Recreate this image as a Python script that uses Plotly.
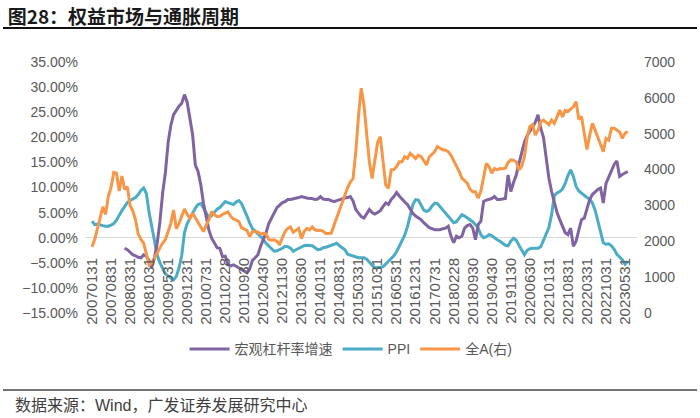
import calendar
import plotly.graph_objects as go

# ---------------- data ----------------
START_YEAR, N_MONTHS = 2007, 198
categories = []
for i in range(N_MONTHS):
    y, m = START_YEAR + i // 12, i % 12 + 1
    categories.append(f"{y}{m:02d}{calendar.monthrange(y, m)[1]:02d}")

tick_labels = ["20070131", "20070831", "20080331", "20081031", "20090531", "20091231",
               "20100731", "20110228", "20110930", "20120430", "20121130", "20130630",
               "20140131", "20140831", "20150331", "20151031", "20160531", "20161231",
               "20170731", "20180228", "20180930", "20190430", "20191130", "20200630",
               "20210131", "20210831", "20220331", "20221031", "20230531"]

leverage_growth = (
    [None] * 12 +
    [-2.1, -2.4, -2.9, -3.4, -3.6, -3.9, -4.0, -3.4, -3.7, -4.6, -5.9, -4.0] +
    [-1.0, 3.3, 9.0, 13.0, 19.0, 22.4, 24.5, 25.5, 26.2, 26.8, 28.5, 27.0] +
    [23.8, 20.5, 14.5, 13.2, 10.6, 6.8, 4.2, 1.5, -0.1, -1.2, -2.0, -2.1] +
    [-3.8, -3.7, -5.4, -5.6, -5.4, -5.7, -6.0, -6.3, -6.7, -7.0, -6.2, -4.5] +
    [-4.0, -3.4, -1.7, -0.5, 1.0, 2.8, 3.9, 5.2, 6.0, 6.5, 7.0, 7.2] +
    [7.6, 7.6, 7.7, 7.9, 8.0, 8.2, 8.0, 7.9, 7.8, 7.8, 7.6, 7.7] +
    [8.2, 7.7, 7.6, 7.6, 7.4, 7.2, 7.4, 7.6, 7.8, 7.9, 8.0, 8.2] +
    [7.3, 5.6, 4.9, 4.2, 3.9, 4.9, 5.6, 5.0, 4.7, 5.0, 5.4, 6.2] +
    [6.9, 6.6, 7.6, 8.2, 9.0, 8.3, 7.6, 7.1, 6.6, 5.6, 4.8, 4.3] +
    [3.9, 3.6, 3.0, 2.4, 2.0, 1.8, 1.6, 1.6, 1.6, 1.8, 1.9, 2.3] +
    [0.3, -1.0, 0.3, 0.0, 0.3, 1.9, 2.4, 2.6, 1.9, -0.4, 2.6, 3.3] +
    [7.2, 7.5, 7.7, 7.8, 8.2, 7.6, 7.6, 7.7, 7.8, 12.5, 9.2, 11.0] +
    [12.5, 14.8, 17.2, 19.0, 20.3, 21.3, 22.3, 23.0, 24.5, 21.8, 20.0, 15.5] +
    [11.9, 9.2, 6.9, 5.0, 3.6, 2.2, 1.0, 0.6, 1.9, -1.7, -0.7, 1.5] +
    [3.6, 3.9, 5.8, 7.6, 8.6, 9.2, 9.6, 9.9, 6.9, 10.8, 12.2, 13.2] +
    [14.6, 15.3, 12.2, 12.6, 12.9, 13.2]
)

ppi = (
    [3.3, 2.6, 2.7, 2.5, 2.4, 2.3, 2.3, 2.5, 2.8, 3.5, 4.6, 5.4] +
    [6.2, 7.0, 7.4, 7.7, 8.0, 8.6, 9.4, 9.9, 8.8, 5.0, 1.9, -1.2] +
    [-3.5, -5.0, -6.0, -7.2, -7.6, -8.0, -8.4, -7.7, -6.0, -3.5, 1.0, 2.8] +
    [3.9, 5.0, 5.9, 6.6, 6.8, 5.9, 4.8, 4.0, 4.4, 5.1, 5.7, 6.0] +
    [6.6, 7.2, 7.0, 6.8, 6.6, 7.1, 7.4, 6.8, 5.7, 4.3, 2.9, 1.8] +
    [1.3, 0.8, 0.3, -0.3, -1.1, -1.6, -2.2, -2.7, -2.6, -2.4, -2.1, -1.7] +
    [-1.8, -2.1, -2.7, -2.4, -2.1, -1.8, -1.6, -1.5, -1.5, -1.6, -2.0, -2.4] +
    [-2.3, -2.0, -1.9, -1.7, -1.5, -1.2, -1.1, -1.6, -2.0, -2.4, -3.3, -3.5] +
    [-3.7, -3.8, -4.0, -4.0, -4.0, -4.3, -5.0, -5.5, -6.0, -6.0, -5.9, -5.8] +
    [-5.3, -4.8, -4.3, -3.6, -2.8, -1.8, -0.6, 0.5, 2.2, 4.6, 6.6, 7.6] +
    [7.5, 6.5, 5.5, 5.2, 5.5, 6.3, 6.9, 6.8, 6.2, 5.6, 4.9, 4.3] +
    [3.7, 3.0, 3.2, 3.8, 4.6, 4.3, 3.9, 3.6, 3.2, 2.6, 1.9, 0.6] +
    [0.0, 0.2, 0.6, 0.4, -0.1, -0.4, -0.7, -1.2, -1.5, -1.6, -0.7, -0.1] +
    [-0.5, -1.5, -2.4, -3.4, -2.5, -2.2, -2.1, -2.1, -2.1, -1.8, -0.6, 0.8] +
    [2.0, 4.6, 8.4, 8.9, 9.2, 9.7, 10.8, 12.4, 13.5, 12.2, 10.2, 9.3] +
    [8.8, 8.3, 8.0, 7.7, 6.9, 5.5, 3.2, 1.0, -1.0, -1.3, -1.2, -1.6] +
    [-2.3, -3.3, -3.9, -4.4, -5.3, -4.7]
)

all_a = (
    [1850, 2050, 2350, 2700, 2960, 2750, 3250, 3500, 3920, 3900, 3400, 3820] +
    [3450, 3520, 3000, 2850, 2600, 2200, 2050, 1950, 1650, 1340, 1400, 1550] +
    [1700, 1820, 1950, 2050, 2270, 2500, 2870, 2350, 2500, 2700, 2900, 2750] +
    [2640, 2780, 2650, 2560, 2400, 2270, 2450, 2600, 2830, 2740, 2690, 2690] +
    [2750, 2780, 2820, 2700, 2620, 2590, 2550, 2380, 2330, 2300, 2130, 2270] +
    [2270, 2260, 2200, 2220, 2200, 2050, 2030, 2040, 2000, 1900, 2100, 2270] +
    [2360, 2400, 2250, 2300, 2360, 2080, 2270, 2360, 2320, 2400, 2320, 2300] +
    [2310, 2280, 2220, 2220, 2230, 2450, 2650, 2830, 3050, 3290, 3500, 3650] +
    [3750, 4500, 5500, 6270, 5800, 4950, 4200, 3750, 4300, 4750, 4920, 4220] +
    [3570, 3480, 3990, 4000, 4080, 4220, 4220, 4360, 4310, 4450, 4380, 4310] +
    [4400, 4360, 4250, 4130, 4350, 4420, 4500, 4640, 4600, 4550, 4540, 4500] +
    [4400, 4250, 4140, 3950, 3760, 3700, 3620, 3450, 3380, 3380, 3200, 3400] +
    [3780, 4170, 4080, 3900, 4030, 3990, 4030, 4020, 4040, 4200, 4270, 4260] +
    [4220, 3990, 4100, 4350, 4900, 5200, 5250, 4960, 5100, 5330, 5380, 5300] +
    [5250, 5380, 5290, 5470, 5660, 5470, 5650, 5620, 5700, 5750, 5890, 5400] +
    [5475, 5050, 4560, 4960, 5290, 5100, 4870, 4700, 4500, 4870, 4820, 5150] +
    [5150, 5100, 5050, 4870, 5010, 5060]
)

series_names = ["宏观杠杆率增速", "PPI", "全A(右)"]
series_colors = ["#8064A2", "#4BACC6", "#F79646"]

# ---------------- figure ----------------
SANS = "Arial, Liberation Sans, sans-serif"
CJK = "Arial, Noto Sans CJK SC, sans-serif"
TICK_COLOR = "#595959"

fig = go.Figure()
fig.add_trace(go.Scatter(x=categories, y=all_a, name=series_names[2], yaxis="y2",
                         mode="lines", line=dict(color=series_colors[2], width=3),
                         legendrank=3))
fig.add_trace(go.Scatter(x=categories, y=ppi, name=series_names[1],
                         mode="lines", line=dict(color=series_colors[1], width=3),
                         legendrank=2))
fig.add_trace(go.Scatter(x=categories, y=leverage_growth, name=series_names[0],
                         mode="lines", line=dict(color=series_colors[0], width=3),
                         connectgaps=False, legendrank=1))

fig.update_layout(
    width=700, height=418,
    margin=dict(l=85, r=63, t=62, b=105),
    paper_bgcolor="white", plot_bgcolor="white",
    showlegend=True,
    legend=dict(orientation="h", x=0.482, xanchor="center", y=-0.145, yanchor="middle",
                font=dict(family=CJK, size=14, color=TICK_COLOR),
                itemwidth=40, tracegroupgap=0),
    xaxis=dict(type="category", categoryorder="array", categoryarray=categories,
               range=[-2.57, 200.4], tickmode="array", tickvals=tick_labels,
               ticktext=tick_labels, tickangle=-90,
               tickfont=dict(family=SANS, size=15, color=TICK_COLOR),
               showgrid=False, showline=False, ticks="", zeroline=False,
               anchor="free", position=0.235),
    yaxis=dict(range=[-15, 35], dtick=5, tick0=0, tickformat=".2f", ticksuffix="%",
               tickfont=dict(family=SANS, size=14, color=TICK_COLOR),
               ticklabelstandoff=6,
               showgrid=False, showline=False, ticks="",
               zeroline=True, zerolinecolor="#D9D9D9", zerolinewidth=1),
    yaxis2=dict(range=[0, 7000], dtick=1000, tick0=0, overlaying="y", side="right",
                tickfont=dict(family=SANS, size=14, color=TICK_COLOR),
                ticklabelstandoff=6,
                showgrid=False, showline=False, ticks="", zeroline=False),
    title=dict(text="<b>图28：权益市场与通胀周期</b>", xref="container", yref="container",
               x=0.011, xanchor="left", y=1 - 17 / 418, yanchor="middle",
               font=dict(family="Noto Sans CJK SC, sans-serif", size=19, color="#1a1a1a")),
    annotations=[dict(text="数据来源：Wind，广发证券发展研究中心", xref="paper", yref="paper",
                      x=(13 - 85) / 552, y=(313 - 405) / 251, xanchor="left", yanchor="middle",
                      showarrow=False,
                      font=dict(family=CJK, size=16, color="#404040"))],
    shapes=[
        dict(type="line", xref="paper", yref="paper", x0=(3 - 85) / 552, x1=(697 - 85) / 552,
             y0=(313 - 28) / 251, y1=(313 - 28) / 251, line=dict(color="#111111", width=2)),
        dict(type="line", xref="paper", yref="paper", x0=(3 - 85) / 552, x1=(697 - 85) / 552,
             y0=(313 - 390) / 251, y1=(313 - 390) / 251, line=dict(color="#444444", width=1.5)),
    ],
)

fig.write_html("out.html", config={"displayModeBar": False},
               post_script="document.body.style.margin='0';document.body.style.overflow='hidden';")
